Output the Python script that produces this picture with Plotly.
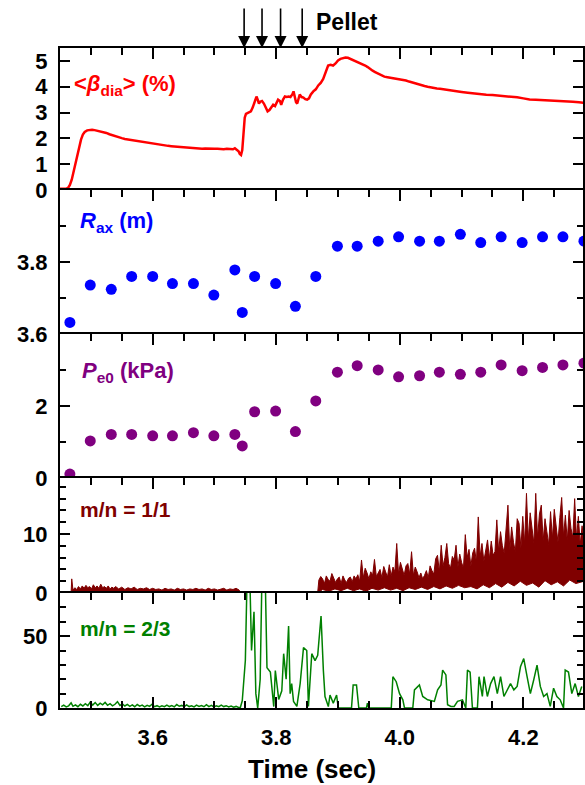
import plotly.graph_objects as go

# ---------------- data ----------------
beta_t = [3.450, 3.455, 3.460, 3.463, 3.466, 3.469, 3.472, 3.475, 3.478, 3.481, 3.484, 3.487, 3.490, 3.494, 3.498,
          3.502, 3.506, 3.510, 3.515, 3.520, 3.525, 3.530, 3.535, 3.540, 3.545, 3.550, 3.555, 3.560, 3.565, 3.570,
          3.575, 3.580, 3.585, 3.590, 3.595, 3.600, 3.605, 3.610, 3.615, 3.620, 3.625, 3.630, 3.635, 3.640, 3.645,
          3.650, 3.655, 3.660, 3.665, 3.670, 3.675, 3.680, 3.685, 3.690, 3.695, 3.700, 3.705, 3.710, 3.715, 3.720,
          3.725, 3.730, 3.733, 3.736, 3.739, 3.741, 3.743, 3.745, 3.747, 3.749, 3.751, 3.755, 3.759, 3.762, 3.765,
          3.768, 3.770, 3.772, 3.774, 3.777, 3.780, 3.783, 3.786, 3.789, 3.792, 3.795, 3.798, 3.800, 3.803, 3.806,
          3.808, 3.811, 3.814, 3.817, 3.820, 3.823, 3.826, 3.828, 3.830, 3.832, 3.834, 3.836, 3.838, 3.841, 3.844,
          3.847, 3.850, 3.853, 3.856, 3.860, 3.864, 3.868, 3.872, 3.876, 3.880, 3.884, 3.888, 3.892, 3.896, 3.900,
          3.904, 3.908, 3.912, 3.916, 3.920, 3.924, 3.928, 3.932, 3.936, 3.940, 3.944, 3.948, 3.952, 3.956, 3.960,
          3.965, 3.970, 3.975, 3.980, 3.985, 3.990, 3.995, 4.000, 4.005, 4.010, 4.015, 4.020, 4.025, 4.030, 4.035,
          4.040, 4.045, 4.050, 4.055, 4.060, 4.065, 4.070, 4.075, 4.080, 4.085, 4.090, 4.095, 4.100, 4.110, 4.120,
          4.130, 4.140, 4.150, 4.160, 4.170, 4.180, 4.190, 4.200, 4.210, 4.220, 4.230, 4.240, 4.250, 4.260, 4.270,
          4.280, 4.290, 4.298]
beta_v = [0.05, 0.05, 0.05, 0.08, 0.20, 0.40, 0.70, 1.00, 1.35, 1.70, 1.95, 2.15, 2.25, 2.31, 2.33,
          2.33, 2.32, 2.30, 2.28, 2.24, 2.21, 2.16, 2.12, 2.07, 2.05, 2.01, 1.98, 1.96, 1.94, 1.93,
          1.90, 1.87, 1.86, 1.84, 1.82, 1.80, 1.79, 1.77, 1.74, 1.72, 1.71, 1.70, 1.70, 1.68, 1.67,
          1.66, 1.64, 1.62, 1.63, 1.62, 1.61, 1.60, 1.61, 1.60, 1.59, 1.60, 1.60, 1.59, 1.58, 1.60,
          1.59, 1.58, 1.62, 1.55, 1.50, 1.40, 1.36, 1.55, 2.20, 2.80, 2.95, 3.00, 3.05, 3.20, 3.45,
          3.62, 3.50, 3.35, 3.42, 3.45, 3.35, 3.20, 3.05, 3.10, 3.20, 3.30, 3.25, 3.35, 3.50, 3.45,
          3.30, 3.50, 3.62, 3.60, 3.62, 3.60, 3.70, 3.82, 3.65, 3.40, 3.35, 3.55, 3.70, 3.60, 3.58,
          3.52, 3.50, 3.55, 3.70, 3.82, 3.90, 4.05, 4.15, 4.30, 4.60, 4.82, 4.85, 4.82, 4.90, 5.02,
          5.08, 5.12, 5.13, 5.12, 5.08, 5.02, 4.98, 4.96, 4.92, 4.86, 4.82, 4.76, 4.68, 4.62, 4.57,
          4.50, 4.43, 4.39, 4.37, 4.35, 4.33, 4.30, 4.29, 4.28, 4.24, 4.20, 4.16, 4.13, 4.10, 4.07,
          4.03, 4.00, 3.97, 3.94, 3.93, 3.92, 3.90, 3.88, 3.86, 3.84, 3.83, 3.81, 3.80, 3.77, 3.74,
          3.72, 3.69, 3.68, 3.66, 3.64, 3.61, 3.59, 3.55, 3.51, 3.50, 3.49, 3.48, 3.47, 3.46, 3.44,
          3.42, 3.40, 3.38]

profile_t = [3.466, 3.499, 3.533, 3.566, 3.600, 3.632, 3.666, 3.699, 3.733, 3.745, 3.765, 3.799, 3.831,
             3.864, 3.899, 3.931, 3.965, 3.998, 4.032, 4.064, 4.098, 4.131, 4.164, 4.198, 4.231, 4.264, 4.298]
rax_v = [3.632, 3.736, 3.724, 3.760, 3.760, 3.740, 3.740, 3.708, 3.778, 3.660, 3.760, 3.740, 3.677,
         3.760, 3.844, 3.844, 3.858, 3.870, 3.858, 3.858, 3.877, 3.854, 3.870, 3.854, 3.870, 3.870, 3.858]
pe0_v = [0.11, 1.03, 1.21, 1.21, 1.17, 1.17, 1.26, 1.17, 1.21, 0.89, 1.84, 1.86, 1.29,
         2.14, 2.94, 3.12, 3.00, 2.81, 2.84, 2.94, 2.88, 2.94, 3.14, 2.98, 3.07, 3.14, 3.19]

# m/n = 1/1 amplitude: early low-level part, then upper / lower envelope of the growing mode
m11_early_t = [3.468, 3.469, 3.471, 3.474, 3.477, 3.480, 3.483, 3.486, 3.489, 3.492, 3.495, 3.498, 3.501, 3.504,
               3.507, 3.510, 3.513, 3.516, 3.519, 3.522, 3.525, 3.528, 3.531, 3.534, 3.537, 3.540, 3.545, 3.550,
               3.555, 3.560, 3.565, 3.570, 3.575, 3.580, 3.585, 3.590, 3.595, 3.600, 3.605, 3.610, 3.615, 3.620,
               3.625, 3.630, 3.635, 3.640, 3.645, 3.650, 3.655, 3.660, 3.665, 3.670, 3.675, 3.680, 3.685, 3.690,
               3.695, 3.700, 3.705, 3.710, 3.715, 3.720, 3.725, 3.730, 3.735, 3.740, 3.742]
m11_early_v = [0.0, 2.4, 0.5, 0.9, 0.6, 1.1, 0.7, 1.2, 0.8, 1.3, 0.9, 1.1, 0.7, 1.4,
               0.9, 1.2, 0.8, 1.5, 0.9, 1.1, 0.8, 1.2, 0.7, 1.0, 0.8, 1.1, 0.7, 1.0,
               0.6, 0.9, 0.7, 1.0, 0.6, 0.8, 0.7, 0.9, 0.6, 0.8, 0.6, 0.7, 0.5, 0.8,
               0.6, 0.7, 0.5, 0.8, 0.6, 0.7, 0.5, 0.7, 0.6, 0.8, 0.6, 0.7, 0.5, 0.8,
               0.6, 0.7, 0.5, 0.6, 0.8, 0.5, 0.7, 0.6, 0.8, 0.5, 0.0]
m11_up_t = [3.867, 3.869, 3.872, 3.875, 3.878, 3.881, 3.884, 3.887, 3.890, 3.893, 3.896, 3.899, 3.902, 3.905,
            3.908, 3.911, 3.914, 3.917, 3.920, 3.923, 3.926, 3.929, 3.932, 3.935, 3.938, 3.941, 3.944, 3.947,
            3.950, 3.953, 3.956, 3.959, 3.962, 3.965, 3.968, 3.971, 3.974, 3.977, 3.980, 3.983, 3.986, 3.989,
            3.992, 3.995, 3.998, 4.001, 4.004, 4.007, 4.010, 4.013, 4.016, 4.019, 4.022, 4.025, 4.028, 4.031,
            4.034, 4.037, 4.040, 4.043, 4.046, 4.049, 4.052, 4.055, 4.058, 4.061, 4.064, 4.067, 4.070, 4.073,
            4.076, 4.079, 4.082, 4.085, 4.088, 4.091, 4.094, 4.097, 4.100, 4.103, 4.106, 4.109, 4.112, 4.115,
            4.118, 4.121, 4.124, 4.127, 4.130, 4.133, 4.136, 4.139, 4.142, 4.145, 4.148, 4.151, 4.154, 4.157,
            4.160, 4.163, 4.166, 4.169, 4.172, 4.175, 4.178, 4.181, 4.184, 4.187, 4.190, 4.193, 4.196, 4.199,
            4.202, 4.205, 4.208, 4.211, 4.214, 4.217, 4.220, 4.223, 4.226, 4.229, 4.232, 4.235, 4.238, 4.241,
            4.244, 4.247, 4.250, 4.253, 4.256, 4.259, 4.262, 4.265, 4.268, 4.271, 4.274, 4.277, 4.280, 4.283,
            4.286, 4.289, 4.292, 4.295, 4.298]
m11_up_v = [0.0, 2.2, 2.8, 2.4, 1.6, 2.9, 2.3, 2.0, 3.3, 2.6, 1.8, 2.4, 2.7, 1.6,
            2.9, 2.2, 1.8, 2.5, 2.7, 1.9, 2.9, 2.4, 3.1, 2.0, 5.6, 2.6, 4.2, 3.4,
            2.4, 3.6, 3.0, 5.7, 2.8, 3.4, 4.0, 2.6, 4.5, 3.6, 2.7, 4.8, 2.9, 4.4,
            3.6, 8.4, 3.2, 5.2, 4.0, 3.0, 4.6, 5.0, 3.2, 7.0, 3.0, 4.4, 3.6, 2.6,
            3.4, 2.4, 3.0, 3.8, 2.6, 4.6, 3.8, 3.2, 5.8, 6.4, 3.6, 8.1, 4.6, 6.0,
            8.4, 5.0, 4.2, 6.2, 5.6, 8.1, 4.4, 6.6, 5.2, 4.2, 9.9, 6.0, 7.4, 4.6,
            6.8, 7.6, 5.2, 12.9, 6.2, 8.4, 5.4, 7.6, 9.0, 5.8, 8.8, 6.4, 7.0, 12.4,
            7.0, 10.4, 8.0, 6.8, 11.0, 14.9, 7.2, 11.2, 8.6, 7.0, 12.6, 11.8, 7.6, 13.0,
            8.4, 16.9, 9.0, 13.6, 11.0, 8.4, 16.9, 9.4, 13.4, 14.9, 8.8, 12.6, 10.4, 8.2,
            13.8, 9.2, 14.2, 11.6, 8.6, 12.8, 16.2, 9.6, 13.2, 8.8, 14.0, 11.0, 9.4, 16.0,
            9.2, 13.0, 8.2, 11.4, 9.0]
m11_low_t = [3.867, 3.875, 3.885, 3.895, 3.905, 3.915, 3.925, 3.935, 3.945, 3.955, 3.965, 3.975, 3.985, 3.995,
             4.005, 4.015, 4.025, 4.035, 4.045, 4.055, 4.065, 4.075, 4.085, 4.095, 4.105, 4.115, 4.125, 4.135,
             4.145, 4.155, 4.165, 4.175, 4.185, 4.195, 4.205, 4.215, 4.225, 4.235, 4.245, 4.255, 4.265, 4.275,
             4.285, 4.298]
m11_low_v = [0.0, 0.6, 0.3, 0.7, 0.4, 0.8, 0.4, 0.7, 0.3, 0.8, 0.5, 0.9, 0.5, 0.8,
             0.4, 0.9, 0.6, 1.0, 0.6, 1.1, 0.7, 1.2, 0.8, 1.3, 0.9, 1.1, 0.7, 1.4,
             0.9, 1.6, 1.0, 1.8, 1.2, 2.0, 1.3, 1.7, 1.0, 2.1, 1.4, 1.9, 1.2, 2.2,
             1.6, 2.0]

# m/n = 2/3 amplitude
m23_t = [3.452, 3.456, 3.460, 3.464, 3.468, 3.471, 3.475, 3.479, 3.483, 3.487, 3.491, 3.495, 3.499, 3.503,
         3.507, 3.511, 3.515, 3.519, 3.523, 3.527, 3.531, 3.535, 3.539, 3.543, 3.547, 3.551, 3.555, 3.559,
         3.563, 3.567, 3.571, 3.575, 3.579, 3.583, 3.587, 3.591, 3.595, 3.599, 3.603, 3.607, 3.611, 3.615,
         3.619, 3.623, 3.627, 3.631, 3.635, 3.639, 3.643, 3.647, 3.651, 3.655, 3.659, 3.663, 3.667, 3.671,
         3.675, 3.679, 3.683, 3.687, 3.691, 3.695, 3.699, 3.703, 3.707, 3.711, 3.715, 3.719, 3.723, 3.727,
         3.731, 3.735, 3.739, 3.742,
         3.745, 3.750, 3.753, 3.757, 3.760, 3.764, 3.767, 3.770, 3.774, 3.777, 3.782, 3.785, 3.7905, 3.796,
         3.7985, 3.804, 3.809, 3.812, 3.816, 3.820, 3.8225, 3.825, 3.828, 3.8334, 3.8387, 3.8441, 3.8494,
         3.8521, 3.8575, 3.8628, 3.8671, 3.8725, 3.8763, 3.8789, 3.8843, 3.887, 3.8923, 3.8977, 3.9004,
         3.9218, 3.9245, 3.9299, 3.9336, 3.946, 3.9476, 3.9497, 3.9862, 3.9888, 3.9942, 3.9996, 4.0049,
         4.0076, 4.021, 4.0237, 4.0317, 4.0371, 4.0451, 4.0559, 4.0612, 4.0666, 4.0693, 4.0746, 4.0773,
         4.0827, 4.088, 4.0934, 4.1014, 4.1068, 4.1095, 4.1138, 4.1175, 4.1256, 4.1282, 4.1336, 4.1363,
         4.1417, 4.147, 4.1524, 4.1578, 4.1631, 4.1685, 4.1738, 4.1792, 4.1846, 4.1899, 4.1953, 4.2006,
         4.206, 4.2113, 4.2167, 4.2221, 4.2274, 4.2328, 4.2382, 4.2435, 4.2489, 4.2542, 4.2596, 4.265,
         4.2677, 4.273, 4.2784, 4.2838, 4.2891, 4.2945]
m23_v = [1.0, 2.0, 0.8, 1.5, 3.6, 1.2, 2.2, 0.9, 2.6, 1.4, 3.0, 1.6, 4.2, 2.0,
         3.8, 1.8, 3.4, 2.2, 3.9, 1.9, 3.0, 1.5, 2.6, 4.4, 1.8, 2.8, 1.4, 2.5,
         1.2, 2.2, 0.9, 2.4, 1.3, 2.0, 0.8, 1.9, 1.1, 2.6, 0.9, 1.6, 0.7, 1.5,
         0.9, 2.0, 1.0, 1.7, 0.8, 2.4, 1.2, 1.8, 0.9, 2.2, 1.0, 1.6, 0.8, 2.0,
         1.1, 1.7, 0.9, 2.3, 1.0, 1.8, 0.8, 1.5, 0.9, 2.0, 1.0, 1.6, 0.7, 1.4,
         0.6, 1.1, 0.4, 0.5,
         5.0, 33.0, 95.0, 95.0, 40.0, 67.0, 10.0, 0.0, 20.0, 95.0, 95.0, 28.0, 25.0, 1.0,
         26.0, 6.0, 12.0, 37.8, 20.0, 57.0, 10.0, 17.0, 4.5, 1.1, 17.0, 42.0, 40.0,
         1.1, 37.8, 33.0, 36.7, 64.0, 26.0, 8.0, 1.0, 9.0, 3.4, 9.0, 0.0,
         0.0, 16.0, 16.0, 0.0, 0.0, 3.4, 0.0, 0.0, 21.8, 18.3, 10.0, 5.7,
         0.0, 0.0, 12.6, 16.0, 8.0, 5.7, 4.6, 12.6, 16.0, 26.4, 23.0, 2.3,
         1.1, 1.1, 4.6, 5.7, 0.0, 26.4, 25.0, 0.0, 0.0, 21.8, 8.0, 21.8,
         8.0, 17.0, 21.8, 10.0, 21.8, 8.0, 12.6, 17.0, 12.6, 15.0, 28.7, 34.4,
         21.8, 10.0, 19.5, 29.8, 15.0, 8.0, 10.0, 1.1, 13.8, 8.0, 5.7, 0.0,
         26.4, 25.0, 10.0, 17.0, 8.0, 15.0]

pellet_t = [3.748, 3.777, 3.807, 3.842]

x_range = [3.45, 4.2965]
x_tickvals = [3.6, 3.8, 4.0, 4.2]
x_ticktext = ["3.6", "3.8", "4.0", "4.2"]

# ---------------- figure ----------------
FONT = "Liberation Sans"
BLACK = "black"
domains = [[0.7848, 1.0], [0.5667, 0.7848], [0.3485, 0.5667], [0.1742, 0.3485], [0.0, 0.1742]]

fig = go.Figure()
fig.add_trace(go.Scatter(x=beta_t, y=beta_v, mode="lines", line=dict(color="#FF0000", width=2.5),
                         xaxis="x", yaxis="y"))
fig.add_trace(go.Scatter(x=profile_t, y=rax_v, mode="markers", marker=dict(color="#0000FF", size=11),
                         xaxis="x2", yaxis="y2"))
fig.add_trace(go.Scatter(x=profile_t, y=pe0_v, mode="markers", marker=dict(color="#800080", size=11),
                         xaxis="x3", yaxis="y3"))
fig.add_trace(go.Scatter(x=m11_early_t, y=m11_early_v, mode="lines", fill="tozeroy",
                         line=dict(color="#800000", width=1), fillcolor="#800000",
                         xaxis="x4", yaxis="y4"))
fig.add_trace(go.Scatter(x=m11_up_t + m11_low_t[::-1], y=m11_up_v + m11_low_v[::-1], mode="lines",
                         fill="toself", line=dict(color="#800000", width=1), fillcolor="#800000",
                         xaxis="x4", yaxis="y4"))
fig.add_trace(go.Scatter(x=m23_t, y=m23_v, mode="lines", line=dict(color="#008000", width=1.5),
                         xaxis="x5", yaxis="y5"))

tickfont = dict(family=FONT, size=22, color=BLACK, weight="bold")
xminor = dict(ticks="inside", ticklen=7, tickwidth=2, tickcolor=BLACK, tickmode="linear",
              tick0=3.45, dtick=0.05, showgrid=False)

def xaxis_cfg(i):
    cfg = dict(domain=[0, 1], anchor="y" if i == 1 else "y%d" % i, showline=True, linecolor=BLACK,
               linewidth=2, ticks="inside", ticklen=11, tickwidth=2, tickcolor=BLACK, showgrid=False,
               zeroline=False, tickmode="array", tickvals=x_tickvals, ticktext=x_ticktext,
               minor=xminor, range=x_range)
    if i < 5:
        cfg.update(side="top", showticklabels=False, matches="x5")
    else:
        cfg.update(side="bottom", mirror="allticks", showticklabels=True, tickfont=tickfont,
                   ticklabelstandoff=9)
    return cfg

y_specs = [
    dict(range=[0, 5.5], tickvals=[0, 1, 2, 3, 4, 5], ticktext=["0", "1", "2", "3", "4", "5"], minor_vals=[]),
    dict(range=[3.6, 4.0], tickvals=[3.6, 3.8], ticktext=["3.6", "3.8"], minor_vals=[3.7, 3.9]),
    dict(range=[0, 4.0], tickvals=[0, 2], ticktext=["0", "2"], minor_vals=[1, 3]),
    dict(range=[0, 19.5], tickvals=[0, 10], ticktext=["0", "10"], minor_vals=[2, 4, 6, 8, 12, 14, 16, 18]),
    dict(range=[0, 80], tickvals=[0, 50], ticktext=["0", "50"], minor_vals=[10, 20, 30, 40, 60, 70]),
]

layout = dict(
    width=585, height=785, margin=dict(l=60, r=0, t=48, b=77),
    paper_bgcolor="white", plot_bgcolor="white", showlegend=False,
    font=dict(family=FONT, color=BLACK),
)
for i in range(1, 6):
    xs = "xaxis" if i == 1 else "xaxis%d" % i
    ys = "yaxis" if i == 1 else "yaxis%d" % i
    layout[xs] = xaxis_cfg(i)
    spec = y_specs[i - 1]
    layout[ys] = dict(domain=domains[i - 1], anchor="x" if i == 1 else "x%d" % i, range=spec["range"],
                      showline=True, linecolor=BLACK, linewidth=2, mirror="allticks",
                      ticks="inside", ticklen=10, tickwidth=2, tickcolor=BLACK,
                      tickmode="array", tickvals=spec["tickvals"], ticktext=spec["ticktext"],
                      tickfont=tickfont, ticklabelstandoff=6, showgrid=False, zeroline=False,
                      minor=dict(ticks="inside", ticklen=6, tickwidth=2, tickcolor=BLACK,
                                 tickmode="array", tickvals=spec["minor_vals"], showgrid=False))
fig.update_layout(**layout)

ann_font = lambda c, s: dict(family=FONT, size=s, color=c, weight="bold")
annotations = [
    dict(text="&lt;<i>β</i><sub>dia</sub>&gt; (%)", x=0.022, y=0.944, xref="paper", yref="paper",
         xanchor="left", yanchor="middle", showarrow=False, font=ann_font("#FF0000", 22)),
    dict(text="<i>R</i><sub>ax</sub> (m)", x=0.034, y=0.736, xref="paper", yref="paper",
         xanchor="left", yanchor="middle", showarrow=False, font=ann_font("#0000FF", 22)),
    dict(text="<i>P</i><sub>e0</sub> (kPa)", x=0.038, y=0.509, xref="paper", yref="paper",
         xanchor="left", yanchor="middle", showarrow=False, font=ann_font("#800080", 22)),
    dict(text="m/n = 1/1", x=0.034, y=0.300, xref="paper", yref="paper",
         xanchor="left", yanchor="middle", showarrow=False, font=ann_font("#800000", 21)),
    dict(text="m/n = 2/3", x=0.034, y=0.121, xref="paper", yref="paper",
         xanchor="left", yanchor="middle", showarrow=False, font=ann_font("#008000", 21)),
    dict(text="Pellet", x=0.486, y=1.039, xref="paper", yref="paper",
         xanchor="left", yanchor="middle", showarrow=False, font=ann_font(BLACK, 23)),
    dict(text="Time (sec)", x=0.482, y=-0.092, xref="paper", yref="paper",
         xanchor="center", yanchor="middle", showarrow=False, font=ann_font(BLACK, 26)),
]
for t in pellet_t:
    annotations.append(dict(text="", x=t, y=1, xref="x", yref="y domain", showarrow=True,
                            ax=0, ay=-41, axref="pixel", ayref="pixel", arrowhead=2, arrowsize=1.5,
                            arrowwidth=1.6, arrowcolor=BLACK, standoff=0))
fig.update_layout(annotations=annotations)

fig.write_html("out.html")
